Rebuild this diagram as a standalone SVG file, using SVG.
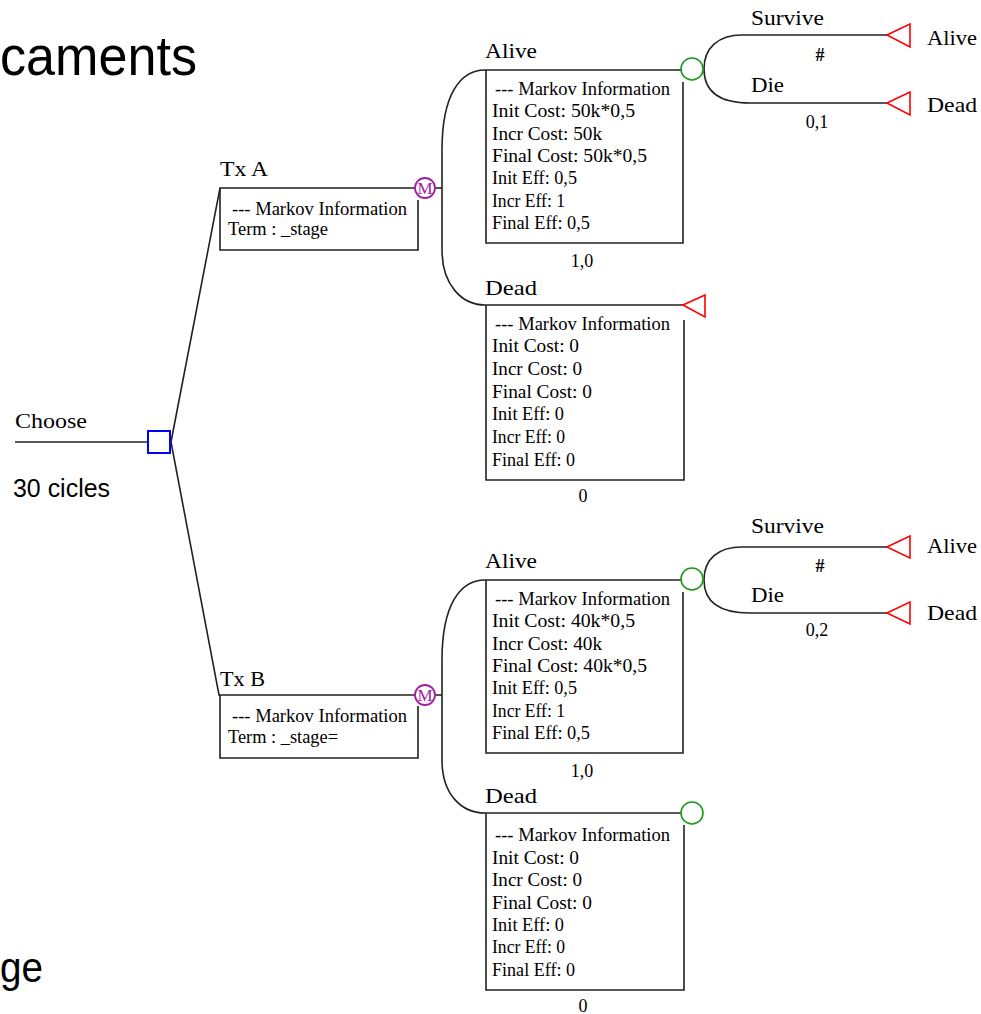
<svg xmlns="http://www.w3.org/2000/svg" width="981" height="1014" viewBox="0 0 981 1014">
<style>
.lbl{font-family:"Liberation Serif",serif;font-size:22px;fill:#000}
.info{font-family:"Liberation Serif",serif;font-size:18px;fill:#000}
.num{font-family:"Liberation Serif",serif;font-size:18px;fill:#000;text-anchor:middle}
.big{font-family:"Liberation Sans",sans-serif;fill:#000}
.edge{fill:none;stroke:#222;stroke-width:1.6}
.box{fill:none;stroke:#222;stroke-width:1.6}
.chance{fill:#fff;stroke:#1a9a1a;stroke-width:1.6}
.term{fill:#fff;stroke:#ff0000;stroke-width:1.6}
.markov{fill:#fff;stroke:#a020a0;stroke-width:1.8}
.mtxt{font-family:"Liberation Serif",serif;font-size:17px;fill:#a020a0;text-anchor:middle}
.decision{fill:#fff;stroke:#0000ff;stroke-width:2}
</style>
<rect width="981" height="1014" fill="#fff"/>
<text class="big" x="0" y="75" font-size="56" textLength="197" lengthAdjust="spacingAndGlyphs">caments</text>
<text class="big" x="13" y="497" font-size="26" textLength="97" lengthAdjust="spacingAndGlyphs">30 cicles</text>
<text class="big" x="0" y="982" font-size="42" textLength="43" lengthAdjust="spacingAndGlyphs">ge</text>

<g id="connectors">
  <path class="edge" d="M15,442 H148"/>
  <path class="edge" d="M171,442 L220,188 H415"/>
  <path class="edge" d="M171,442 L219,695 H415"/>
  <path class="edge" d="M435,188 H442"/>
  <path class="edge" d="M435,695 H442"/>
  <path class="edge" d="M681,70 H485 C460,70 442,95 442,150 L442,250 C442,285 462,305 485,305 H683"/>
  <path class="edge" d="M681,580 H485 C460,580 442,605 442,660 L442,760 C442,795 462,813 485,813 H681"/>
  <path class="edge" d="M704,69 C704,48 718,35 742,35 H887"/>
  <path class="edge" d="M704,69 C704,92 720,103 750,103 H887"/>
  <path class="edge" d="M704,580 C704,559 718,547 742,547 H887"/>
  <path class="edge" d="M704,580 C704,603 720,613 750,613 H887"/>
</g>

<g id="choose">
  <rect class="decision" x="148" y="431" width="22" height="22"/>
  <text class="lbl" x="15" y="428" textLength="72" lengthAdjust="spacingAndGlyphs">Choose</text>
</g>

<g id="txA">
  <path class="box" d="M220,188 V250 H418 V200"/>
  <circle class="markov" cx="425" cy="188" r="10"/>
  <text class="mtxt" x="425" y="194">M</text>
  <text class="lbl" x="220" y="176" textLength="48" lengthAdjust="spacingAndGlyphs">Tx A</text>
  <text class="info" x="232" y="215" textLength="175" lengthAdjust="spacingAndGlyphs">--- Markov Information</text>
  <text class="info" x="228" y="235" textLength="100" lengthAdjust="spacingAndGlyphs">Term : _stage</text>
</g>

<g id="txA-alive">
  <path class="box" d="M486,70 V243 H683 V82"/>
  <circle class="chance" cx="692" cy="69" r="11"/>
  <text class="lbl" x="485" y="58" textLength="52" lengthAdjust="spacingAndGlyphs">Alive</text>
  <text class="info" x="495" y="95" textLength="175" lengthAdjust="spacingAndGlyphs">--- Markov Information</text>
  <text class="info" x="492" y="117" textLength="143" lengthAdjust="spacingAndGlyphs">Init Cost: 50k*0,5</text>
  <text class="info" x="492" y="140" textLength="110" lengthAdjust="spacingAndGlyphs">Incr Cost: 50k</text>
  <text class="info" x="492" y="162" textLength="155" lengthAdjust="spacingAndGlyphs">Final Cost: 50k*0,5</text>
  <text class="info" x="492" y="184" textLength="85" lengthAdjust="spacingAndGlyphs">Init Eff: 0,5</text>
  <text class="info" x="492" y="207" textLength="73" lengthAdjust="spacingAndGlyphs">Incr Eff: 1</text>
  <text class="info" x="492" y="229" textLength="98" lengthAdjust="spacingAndGlyphs">Final Eff: 0,5</text>
  <text class="num" x="582" y="267">1,0</text>
</g>

<g id="txA-alive-survive">
  <polygon class="term" points="887,35 910,24 910,47"/>
  <text class="lbl" x="751" y="25" textLength="73" lengthAdjust="spacingAndGlyphs">Survive</text>
  <text class="num" x="820" y="61" font-weight="bold">#</text>
  <text class="lbl" x="927" y="45" textLength="50" lengthAdjust="spacingAndGlyphs">Alive</text>
</g>
<g id="txA-alive-die">
  <polygon class="term" points="887,103 910,92 910,115"/>
  <text class="lbl" x="751" y="92" textLength="33" lengthAdjust="spacingAndGlyphs">Die</text>
  <text class="num" x="817" y="128">0,1</text>
  <text class="lbl" x="927" y="112" textLength="50" lengthAdjust="spacingAndGlyphs">Dead</text>
</g>

<g id="txA-dead">
  <path class="box" d="M486,305 V480 H684 V320"/>
  <polygon class="term" points="683,305 705,295 705,317"/>
  <text class="lbl" x="485" y="295" textLength="52" lengthAdjust="spacingAndGlyphs">Dead</text>
  <text class="info" x="495" y="330" textLength="175" lengthAdjust="spacingAndGlyphs">--- Markov Information</text>
  <text class="info" x="492" y="352" textLength="87" lengthAdjust="spacingAndGlyphs">Init Cost: 0</text>
  <text class="info" x="492" y="375" textLength="90" lengthAdjust="spacingAndGlyphs">Incr Cost: 0</text>
  <text class="info" x="492" y="398" textLength="100" lengthAdjust="spacingAndGlyphs">Final Cost: 0</text>
  <text class="info" x="492" y="420" textLength="72" lengthAdjust="spacingAndGlyphs">Init Eff: 0</text>
  <text class="info" x="492" y="443" textLength="73" lengthAdjust="spacingAndGlyphs">Incr Eff: 0</text>
  <text class="info" x="492" y="466" textLength="83" lengthAdjust="spacingAndGlyphs">Final Eff: 0</text>
  <text class="num" x="583" y="502">0</text>
</g>

<g id="txB">
  <path class="box" d="M220,695 V758 H418 V706"/>
  <circle class="markov" cx="425" cy="695" r="10"/>
  <text class="mtxt" x="425" y="701">M</text>
  <text class="lbl" x="220" y="686" textLength="45" lengthAdjust="spacingAndGlyphs">Tx B</text>
  <text class="info" x="232" y="722" textLength="175" lengthAdjust="spacingAndGlyphs">--- Markov Information</text>
  <text class="info" x="228" y="743" textLength="110" lengthAdjust="spacingAndGlyphs">Term : _stage=</text>
</g>

<g id="txB-alive">
  <path class="box" d="M486,580 V753 H683 V592"/>
  <circle class="chance" cx="692" cy="579" r="11"/>
  <text class="lbl" x="485" y="568" textLength="52" lengthAdjust="spacingAndGlyphs">Alive</text>
  <text class="info" x="495" y="605" textLength="175" lengthAdjust="spacingAndGlyphs">--- Markov Information</text>
  <text class="info" x="492" y="627" textLength="143" lengthAdjust="spacingAndGlyphs">Init Cost: 40k*0,5</text>
  <text class="info" x="492" y="650" textLength="110" lengthAdjust="spacingAndGlyphs">Incr Cost: 40k</text>
  <text class="info" x="492" y="672" textLength="155" lengthAdjust="spacingAndGlyphs">Final Cost: 40k*0,5</text>
  <text class="info" x="492" y="694" textLength="85" lengthAdjust="spacingAndGlyphs">Init Eff: 0,5</text>
  <text class="info" x="492" y="717" textLength="73" lengthAdjust="spacingAndGlyphs">Incr Eff: 1</text>
  <text class="info" x="492" y="739" textLength="98" lengthAdjust="spacingAndGlyphs">Final Eff: 0,5</text>
  <text class="num" x="582" y="777">1,0</text>
</g>

<g id="txB-alive-survive">
  <polygon class="term" points="887,547 910,536 910,558"/>
  <text class="lbl" x="751" y="533" textLength="73" lengthAdjust="spacingAndGlyphs">Survive</text>
  <text class="num" x="820" y="572" font-weight="bold">#</text>
  <text class="lbl" x="927" y="553" textLength="50" lengthAdjust="spacingAndGlyphs">Alive</text>
</g>
<g id="txB-alive-die">
  <polygon class="term" points="887,613 910,602 910,624"/>
  <text class="lbl" x="751" y="602" textLength="33" lengthAdjust="spacingAndGlyphs">Die</text>
  <text class="num" x="817" y="636">0,2</text>
  <text class="lbl" x="927" y="620" textLength="50" lengthAdjust="spacingAndGlyphs">Dead</text>
</g>

<g id="txB-dead">
  <path class="box" d="M486,813 V990 H684 V825"/>
  <circle class="chance" cx="692" cy="813" r="11"/>
  <text class="lbl" x="485" y="803" textLength="52" lengthAdjust="spacingAndGlyphs">Dead</text>
  <text class="info" x="495" y="841" textLength="175" lengthAdjust="spacingAndGlyphs">--- Markov Information</text>
  <text class="info" x="492" y="864" textLength="87" lengthAdjust="spacingAndGlyphs">Init Cost: 0</text>
  <text class="info" x="492" y="886" textLength="90" lengthAdjust="spacingAndGlyphs">Incr Cost: 0</text>
  <text class="info" x="492" y="909" textLength="100" lengthAdjust="spacingAndGlyphs">Final Cost: 0</text>
  <text class="info" x="492" y="931" textLength="72" lengthAdjust="spacingAndGlyphs">Init Eff: 0</text>
  <text class="info" x="492" y="953" textLength="73" lengthAdjust="spacingAndGlyphs">Incr Eff: 0</text>
  <text class="info" x="492" y="976" textLength="83" lengthAdjust="spacingAndGlyphs">Final Eff: 0</text>
  <text class="num" x="583" y="1012">0</text>
</g>
</svg>
